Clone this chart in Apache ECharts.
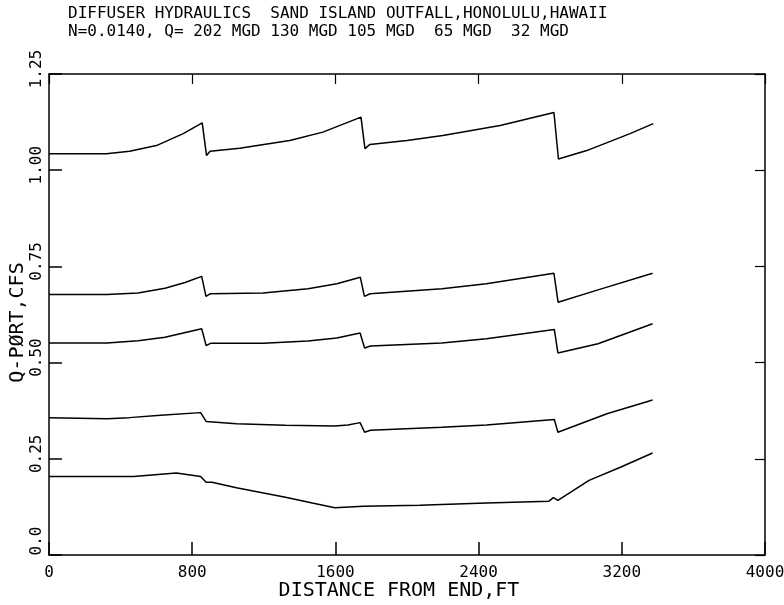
<!DOCTYPE html>
<html><head><meta charset="utf-8">
<script src="https://cdn.jsdelivr.net/npm/echarts@6/dist/echarts.min.js"></script>
<style>html,body{margin:0;padding:0;background:#fff}#c{width:784px;height:605px}</style>
</head><body><div id="c"></div>
<script>
const titleLine1 = 'DIFFUSER HYDRAULICS  SAND ISLAND OUTFALL,HONOLULU,HAWAII';
const titleLine2 = 'N=0.0140, Q= 202 MGD 130 MGD 105 MGD  65 MGD  32 MGD';
const xName = 'DISTANCE FROM END,FT';
const yName = 'Q-P\u00D8RT,CFS';
const yTickLabels = ['0.0', '0.25', '0.50', '0.75', '1.00', '1.25'];

// [distance ft, Q-port cfs]
const q202 = [[0,1.043],[320,1.043],[450,1.049],[600,1.064],[750,1.095],[856,1.123],[880,1.038],[900,1.049],[1065,1.057],[1345,1.077],[1530,1.099],[1743,1.138],[1765,1.056],[1793,1.067],[2000,1.077],[2200,1.090],[2520,1.116],[2821,1.150],[2846,1.029],[3004,1.051],[3246,1.095],[3376,1.121]];
const q130 = [[0,0.677],[324,0.677],[497,0.681],[648,0.693],[760,0.708],[853,0.724],[877,0.672],[902,0.679],[1196,0.681],[1447,0.692],[1608,0.705],[1739,0.722],[1762,0.672],[1794,0.679],[2196,0.692],[2443,0.705],[2821,0.732],[2844,0.657],[3067,0.689],[3372,0.732]];
const q105 = [[0,0.551],[324,0.551],[498,0.557],[648,0.566],[853,0.588],[878,0.544],[902,0.550],[1197,0.550],[1446,0.556],[1608,0.564],[1738,0.577],[1763,0.538],[1796,0.543],[2194,0.551],[2444,0.562],[2823,0.586],[2843,0.525],[3067,0.549],[3372,0.601]];
const q65 = [[0,0.357],[324,0.354],[449,0.357],[623,0.363],[847,0.370],[878,0.347],[1047,0.341],[1321,0.337],[1596,0.335],[1670,0.338],[1738,0.344],[1763,0.319],[1796,0.324],[2194,0.332],[2444,0.338],[2823,0.352],[2843,0.319],[3117,0.367],[3372,0.403]];
const q32 = [[0,0.204],[473,0.204],[711,0.213],[847,0.204],[878,0.189],[910,0.189],[1047,0.175],[1321,0.150],[1471,0.135],[1596,0.123],[1758,0.127],[2070,0.129],[2444,0.135],[2793,0.140],[2818,0.149],[2843,0.142],[3017,0.194],[3192,0.228],[3372,0.265]];

const FONT = 'DejaVu Sans Mono';
const chart = echarts.init(document.getElementById('c'), null, {renderer: 'canvas'});
const lineStyle = {color: '#000', width: 1.5};
function mk(name, data) {
  return {name, type: 'line', data, showSymbol: false, symbol: 'none', lineStyle, xAxisIndex: 0, yAxisIndex: 0, animation: false};
}
const axisLineStyle = {onZero: false, lineStyle: {color: '#000', width: 1.5}};
chart.setOption({
  backgroundColor: '#fff',
  animation: false,
  title: {
    text: titleLine1 + '\n' + titleLine2,
    left: 68, top: 5, padding: 0,
    textStyle: {fontFamily: FONT, fontSize: 16, lineHeight: 18, fontWeight: 'normal', color: '#000'}
  },
  grid: {left: 49, top: 74, width: 716, height: 481, containLabel: false, outerBoundsMode: 'none'},
  xAxis: [{
    type: 'value', min: 0, max: 4000, interval: 800, position: 'bottom',
    name: xName, nameLocation: 'middle', nameGap: 26, nameMoveOverlap: false,
    nameTextStyle: {fontFamily: FONT, fontSize: 20, color: '#000', padding: [0, 16, 0, 0]},
    axisLine: axisLineStyle,
    axisTick: {inside: true, length: 13, lineStyle: {color: '#000', width: 1.5}},
    axisLabel: {fontFamily: FONT, fontSize: 16, color: '#000', margin: 10, formatter: v => String(v)},
    splitLine: {show: false}
  }, {
    type: 'value', min: 0, max: 4000, interval: 800, position: 'top',
    axisLine: axisLineStyle,
    axisTick: {inside: true, length: 10, lineStyle: {color: '#000', width: 1.2}},
    axisLabel: {show: false}, splitLine: {show: false}
  }],
  yAxis: [{
    type: 'value', min: 0, max: 1.25, interval: 0.25, position: 'left',
    name: yName, nameLocation: 'middle', nameGap: 21, nameRotate: 90, nameMoveOverlap: false,
    nameTextStyle: {fontFamily: FONT, fontSize: 20, color: '#000', padding: [0, 16, 0, 0]},
    axisLine: axisLineStyle,
    axisTick: {inside: true, length: 13, lineStyle: {color: '#000', width: 1.5}},
    axisLabel: {
      rotate: 90, margin: 4, color: '#000',
      formatter: (v, i) => i === 0 ? '{z|' + yTickLabels[0] + '}' : '{n|' + yTickLabels[i] + '}',
      rich: {
        z: {fontFamily: FONT, fontSize: 16, color: '#000', padding: [0, 0, 0, 28]},
        n: {fontFamily: FONT, fontSize: 16, color: '#000', padding: [0, 0, 0, 10]}
      }
    },
    splitLine: {show: false}
  }, {
    type: 'value', min: 0, max: 1.25, interval: 0.25, position: 'right',
    axisLine: axisLineStyle,
    axisTick: {inside: true, length: 10, lineStyle: {color: '#000', width: 1.2}},
    axisLabel: {show: false}, splitLine: {show: false}
  }],
  series: [mk('202 MGD', q202), mk('130 MGD', q130), mk('105 MGD', q105), mk('65 MGD', q65), mk('32 MGD', q32)]
});
</script>
</body></html>
